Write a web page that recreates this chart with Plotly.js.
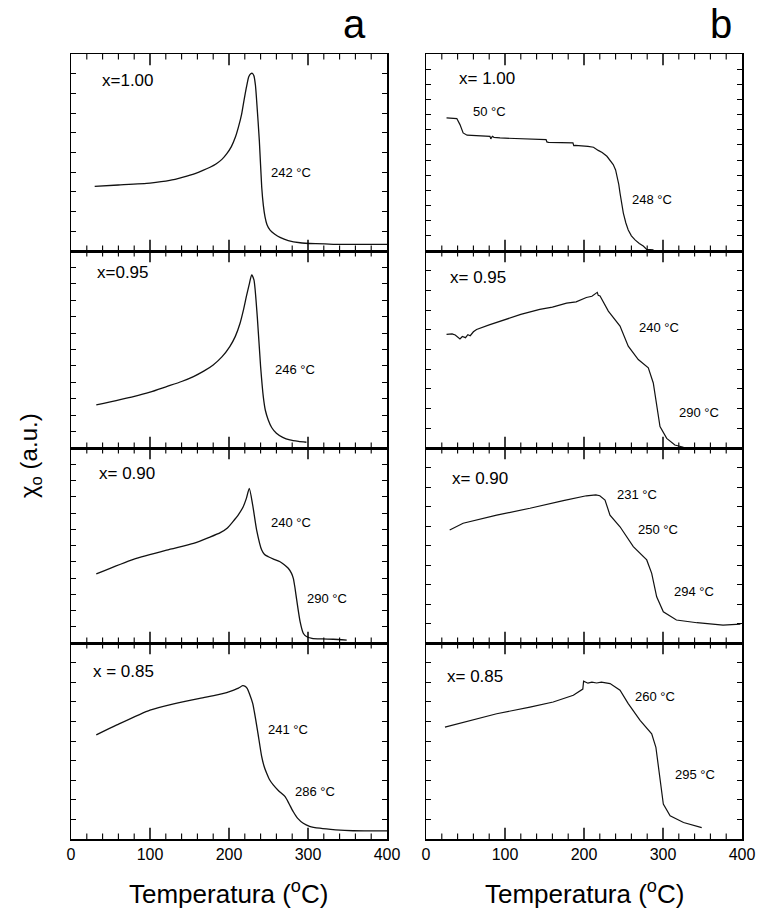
<!DOCTYPE html>
<html>
<head>
<meta charset="utf-8">
<script src="https://cdn.plot.ly/plotly-3.0.1.min.js"></script>
<style>html,body{margin:0;padding:0;background:#fff;}#chart{width:757px;height:908px;}</style>
</head>
<body>
<div id="chart"></div>
<script>
// ---- Data, chi in arbitrary units (tick units of each panel) ----
// Column a
const a100_T   = [30, 60, 100, 125, 142, 157, 167, 176, 184, 191, 197, 203, 208, 212, 216, 219, 222, 225, 227.5, 229.5, 231.5, 233.5, 235, 238.4, 241.4, 243.5, 245.6, 248, 252, 258, 264.6, 275, 290, 310, 332, 400];
const a100_chi = [3.28, 3.35, 3.45, 3.58, 3.75, 3.93, 4.09, 4.25, 4.43, 4.65, 4.93, 5.3, 5.77, 6.3, 6.95, 7.65, 8.3, 8.85, 9.0, 9.02, 8.9, 8.4, 7.63, 5.6, 3.25, 2.3, 1.73, 1.35, 1.06, 0.85, 0.69, 0.53, 0.42, 0.37, 0.34, 0.34];

const a095_T   = [32, 79, 100, 121, 140, 155, 168, 180, 191, 201, 208, 214, 218, 222, 225.5, 228.7, 231.6, 235.8, 240, 243.4, 246, 249.7, 254, 260, 268, 277, 288, 298];
const a095_chi = [2.62, 3.13, 3.4, 3.74, 4.05, 4.35, 4.68, 5.06, 5.55, 6.18, 6.8, 7.6, 8.35, 9.23, 9.95, 10.55, 10.24, 8.0, 4.96, 3.13, 2.3, 1.71, 1.25, 0.9, 0.65, 0.49, 0.4, 0.35];

const a090_T   = [32, 79, 121, 155, 175, 189, 198, 205, 212, 218, 222, 225.7, 230, 235, 241.4, 245, 249.8, 257, 264.6, 270, 275, 279, 281.4, 283.5, 285.7, 290, 294, 298, 305, 318, 332, 349];
const a090_chi = [4.25, 5.15, 5.72, 6.13, 6.5, 6.79, 7.08, 7.47, 7.9, 8.39, 8.9, 9.52, 8.49, 6.95, 5.72, 5.45, 5.31, 5.15, 5.0, 4.82, 4.6, 4.3, 3.98, 3.4, 2.65, 1.31, 0.6, 0.4, 0.29, 0.25, 0.23, 0.18];

const a085_T   = [32, 58, 100, 130, 163, 185, 197, 206, 212, 217.3, 220, 223, 226, 230, 236, 241.4, 244.5, 247.7, 251, 256, 263, 271, 276, 281.4, 287, 294, 302, 315, 335, 357, 400];
const a085_chi = [5.31, 5.82, 6.58, 6.9, 7.18, 7.35, 7.47, 7.6, 7.7, 7.82, 7.8, 7.69, 7.4, 6.92, 5.56, 4.2, 3.7, 3.35, 3.05, 2.76, 2.45, 2.16, 1.8, 1.39, 1.05, 0.8, 0.65, 0.55, 0.47, 0.42, 0.41];

// Column b
const b100_T   = [26, 39, 43, 47, 52, 81, 82, 84, 86, 93.7, 152, 153, 155, 186, 187, 189, 205, 212, 218, 223, 229, 233, 237, 240, 242.2, 244, 245.6, 248, 249.8, 253, 256, 260, 264.6, 270, 275, 279.4, 283, 288];
const b100_chi = [8.79, 8.74, 8.34, 7.79, 7.64, 7.57, 7.4, 7.57, 7.5, 7.46, 7.35, 7.2, 7.17, 7.13, 6.95, 6.97, 6.91, 6.85, 6.64, 6.5, 6.25, 6.0, 5.7, 5.35, 4.92, 4.4, 3.82, 3.1, 2.5, 1.85, 1.39, 1.0, 0.73, 0.5, 0.33, 0.11, 0.1, 0.07];

const b095_T   = [26, 33, 37, 40, 43, 46, 50, 53, 56, 60, 64, 80, 102, 120, 144, 160, 178, 190, 203, 210, 216.8, 218, 220.3, 230.8, 245.6, 256, 268.7, 281.4, 287.7, 292, 296.2, 304.7, 315, 326];
const b095_chi = [5.77, 5.79, 5.74, 5.62, 5.54, 5.66, 5.6, 5.75, 5.7, 5.9, 6.02, 6.25, 6.53, 6.78, 7.04, 7.15, 7.35, 7.42, 7.64, 7.7, 7.9, 7.75, 7.72, 6.95, 6.19, 5.17, 4.49, 4.07, 3.3, 2.28, 1.09, 0.49, 0.15, 0.04];

const b090_T   = [30, 47, 89.5, 131.6, 173.8, 203, 215, 220, 226.6, 232.9, 245.6, 262.4, 279.4, 285.7, 292, 300.4, 317, 343, 376, 398];
const b090_chi = [5.79, 6.14, 6.56, 6.91, 7.3, 7.55, 7.6, 7.55, 7.33, 6.56, 5.96, 4.94, 4.26, 3.57, 2.37, 1.6, 1.18, 1.04, 0.92, 0.97];

const b085_T   = [24, 47, 89.5, 131.6, 161, 186.5, 197, 198.5, 199.5, 205, 210, 216, 222, 233, 245.6, 256, 271, 285.7, 291, 296, 300.4, 309, 326, 349];
const b085_chi = [5.71, 5.96, 6.39, 6.73, 6.99, 7.33, 7.59, 7.65, 8.05, 7.95, 8.0, 7.96, 8.0, 7.93, 7.59, 6.91, 6.05, 5.37, 4.68, 3.14, 1.78, 1.18, 0.84, 0.58];

// Tick values for the temperature axes
const xMajorTicks = [100, 200, 300];
const xMinorTicks = [20, 40, 60, 80, 120, 140, 160, 180, 220, 240, 260, 280, 320, 340, 360, 380];

// Panel labels and annotation texts
const compLabels = ["x=1.00", "x=0.95", "x= 0.90", "x = 0.85", "x= 1.00", "x= 0.95", "x= 0.90", "x= 0.85"];
const tempLabels = [["242 °C"], ["246 °C"], ["240 °C", "290 °C"], ["241 °C", "286 °C"],
                    ["50 °C", "248 °C"], ["240 °C", "290 °C"], ["231 °C", "250 °C", "294 °C"], ["260 °C", "295 °C"]];
const yIntervals = [10, 12, 12, 10, 13, 10, 10, 10];

const seriesT   = [a100_T, a095_T, a090_T, a085_T, b100_T, b095_T, b090_T, b085_T];
const seriesChi = [a100_chi, a095_chi, a090_chi, a085_chi, b100_chi, b095_chi, b090_chi, b085_chi];

// ---- Layout geometry (pixels) ----
const W = 757, H = 908;
const colX = [[71, 387], [426, 742]];
const rowY = [[54, 251], [251, 448], [448, 643], [643, 839]];
const px2x = p => p / W;
const px2y = p => 1 - p / H;

// label positions in pixels: [left x, center y]
const compPos = [[100, 81], [95, 272], [97, 474], [91, 671], [457, 78], [448, 277], [450, 478], [445, 676]];
const tempPos = [[[269, 172]], [[273, 369]], [[269, 522], [305, 598]], [[266, 729], [293, 791]],
                 [[471, 112], [630, 200]], [[637, 328], [677, 413]], [[615, 495], [636, 529], [672, 591]], [[633, 696], [673, 774]]];

const FONT = "Liberation Sans, Arial, Helvetica, sans-serif";
const traces = [];
const layout = {
  width: W, height: H,
  margin: {l: 0, r: 0, t: 0, b: 0},
  paper_bgcolor: "#fff", plot_bgcolor: "rgba(0,0,0,0)",
  showlegend: false,
  font: {family: FONT, color: "#000"},
  annotations: []
};

// inward tick marks along the bottom and top frame of a panel (markers clipped to the plot area)
function tickTrace(vals, ymax, size, width, sfx) {
  const xs = [], ys = [];
  vals.forEach(v => { xs.push(v, v); ys.push(0, ymax); });
  return {x: xs, y: ys, type: "scatter", mode: "markers", cliponaxis: true,
    marker: {symbol: "line-ns", size: size, color: "#000", line: {color: "#000", width: width}},
    xaxis: "x" + sfx, yaxis: "y" + sfx, hoverinfo: "skip"};
}

for (let i = 0; i < 8; i++) {
  const col = i < 4 ? 0 : 1;
  const row = i % 4;
  const n = i + 1;
  const sfx = n === 1 ? "" : String(n);
  traces.push({
    x: seriesT[i], y: seriesChi[i], type: "scatter", mode: "lines",
    line: col === 0 ? {color: "#111", width: 1.3, shape: "spline", smoothing: 0.6}
                    : {color: "#111", width: 1.2, shape: "linear"},
    xaxis: "x" + sfx, yaxis: "y" + sfx,
    hoverinfo: "skip"
  });
  traces.push(tickTrace(xMajorTicks, yIntervals[i], 16, 1.5, sfx));
  traces.push(tickTrace(xMinorTicks, yIntervals[i], 8, 1.1, sfx));
  layout["xaxis" + sfx] = {
    domain: [px2x(colX[col][0]), px2x(colX[col][1])],
    anchor: "y" + sfx,
    range: [0, 400], showgrid: false, zeroline: false,
    showline: true, linecolor: "#000", linewidth: 1.5, mirror: true,
    ticks: "", tickmode: "linear", tick0: 0, dtick: 100,
    showticklabels: row === 3,
    tickfont: {size: 16, family: FONT, color: "#000"}
  };
  layout["yaxis" + sfx] = {
    domain: [px2y(rowY[row][1]), px2y(rowY[row][0])],
    anchor: "x" + sfx,
    range: [0, yIntervals[i]], showgrid: false, zeroline: false,
    showline: true, linecolor: "#000", linewidth: 1.5, mirror: "ticks",
    ticks: "inside", ticklen: 5, tickwidth: 1, tickcolor: "#000",
    dtick: 1, showticklabels: false
  };
  layout.annotations.push({
    xref: "paper", yref: "paper", x: px2x(compPos[i][0]), y: px2y(compPos[i][1]),
    xanchor: "left", yanchor: "middle", showarrow: false,
    text: compLabels[i], font: {size: 17, family: FONT, color: "#000"}
  });
  tempLabels[i].forEach((t, k) => {
    layout.annotations.push({
      xref: "paper", yref: "paper", x: px2x(tempPos[i][k][0]), y: px2y(tempPos[i][k][1]),
      xanchor: "left", yanchor: "middle", showarrow: false,
      text: t, font: {size: 13, family: FONT, color: "#000"}
    });
  });
}

// column letters
layout.annotations.push({xref: "paper", yref: "paper", x: px2x(354), y: px2y(24), xanchor: "center", yanchor: "middle",
  showarrow: false, text: "a", font: {size: 40, family: FONT, color: "#000"}});
layout.annotations.push({xref: "paper", yref: "paper", x: px2x(721), y: px2y(24), xanchor: "center", yanchor: "middle",
  showarrow: false, text: "b", font: {size: 40, family: FONT, color: "#000"}});
// x titles
[229, 584].forEach(cx => layout.annotations.push({xref: "paper", yref: "paper", x: px2x(cx), y: px2y(892),
  xanchor: "center", yanchor: "middle", showarrow: false, text: "Temperatura (<sup>o</sup>C)",
  font: {size: 26, family: FONT, color: "#000"}}));
// y title
layout.annotations.push({xref: "paper", yref: "paper", x: px2x(30), y: px2y(456), xanchor: "center", yanchor: "middle",
  showarrow: false, textangle: -90, text: "χ<sub>o</sub> (a.u.)", font: {size: 24, family: FONT, color: "#000"}});

Plotly.newPlot("chart", traces, layout, {staticPlot: true, displayModeBar: false});
</script>
</body>
</html>
